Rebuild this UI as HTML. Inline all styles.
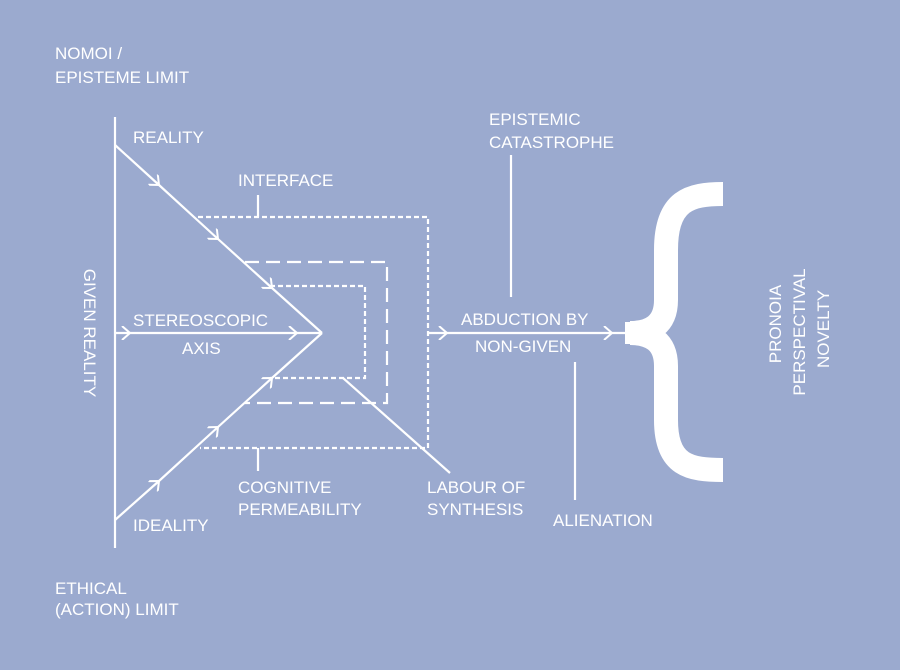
<!DOCTYPE html>
<html><head><style>
html,body{margin:0;padding:0;background:#9baacf;}
svg{display:block}
text{font-family:"Liberation Sans",sans-serif;font-size:17px;fill:#fff;}
</style></head><body>
<svg width="900" height="670" viewBox="0 0 900 670" xmlns="http://www.w3.org/2000/svg">
<defs>
<marker id="ch" markerWidth="14" markerHeight="14" refX="10" refY="7" orient="auto" markerUnits="userSpaceOnUse">
<polyline points="2,0 10,7 2,14" fill="none" stroke="#fff" stroke-width="2"/>
</marker>
</defs>
<rect width="900" height="670" fill="#9baacf"/>
<g stroke="#fff" stroke-width="2.2" fill="none">
<line x1="115" y1="117" x2="115" y2="548"/>
<polyline points="115,145 159,185 218,239 272,288 322,333" marker-mid="url(#ch)"/>
<polyline points="115,520 159,481 218,427 272,378 322,333" marker-mid="url(#ch)"/>
<polyline points="115,333 130,333 297,333 322,333" marker-mid="url(#ch)"/>
<line x1="343" y1="378" x2="450" y2="473"/>
<polyline points="428,333 447,333 612,333 626,333" marker-mid="url(#ch)"/>
<line x1="511" y1="155" x2="511" y2="297"/>
<line x1="575" y1="362" x2="575" y2="500"/>
<line x1="258" y1="195" x2="258" y2="217"/>
<line x1="258" y1="448" x2="258" y2="471"/>
</g>
<g stroke="#fff" stroke-width="2.2" fill="none">
<polyline points="198,217 428,217 428,448 200,448" stroke-dasharray="5,3"/>
<polyline points="245,262 387,262 387,403 245,403" stroke-dasharray="14,7"/>
<polyline points="270,286 365,286 365,378 270,378" stroke-dasharray="5,3"/>
</g>
<path d="M723,194 C690,194 666,200 666,250 L666,300 C666,325 650,333 630,333 C650,333 666,341 666,366 L666,420 C666,466 690,470 723,470" stroke="#fff" stroke-width="24" fill="none"/>
<rect x="625" y="322" width="20" height="22" fill="#fff"/>
<text x="55" y="59">NOMOI /</text>
<text x="55" y="83">EPISTEME LIMIT</text>
<text x="133" y="143">REALITY</text>
<text x="238" y="186">INTERFACE</text>
<text x="133" y="326">STEREOSCOPIC</text>
<text x="182" y="354">AXIS</text>
<text x="133" y="531">IDEALITY</text>
<text x="238" y="493">COGNITIVE</text>
<text x="238" y="515">PERMEABILITY</text>
<text x="427" y="493">LABOUR OF</text>
<text x="427" y="515">SYNTHESIS</text>
<text x="489" y="125">EPISTEMIC</text>
<text x="489" y="148">CATASTROPHE</text>
<text x="461" y="325">ABDUCTION BY</text>
<text x="475" y="352">NON-GIVEN</text>
<text x="553" y="526">ALIENATION</text>
<text x="55" y="594">ETHICAL</text>
<text x="55" y="615">(ACTION) LIMIT</text>
<text transform="translate(84,333) rotate(90)" text-anchor="middle">GIVEN REALITY</text>
<text transform="translate(781,324) rotate(-90)" text-anchor="middle">PRONOIA</text>
<text transform="translate(805,332) rotate(-90)" text-anchor="middle">PERSPECTIVAL</text>
<text transform="translate(829,329) rotate(-90)" text-anchor="middle">NOVELTY</text>
</svg>
</body></html>
